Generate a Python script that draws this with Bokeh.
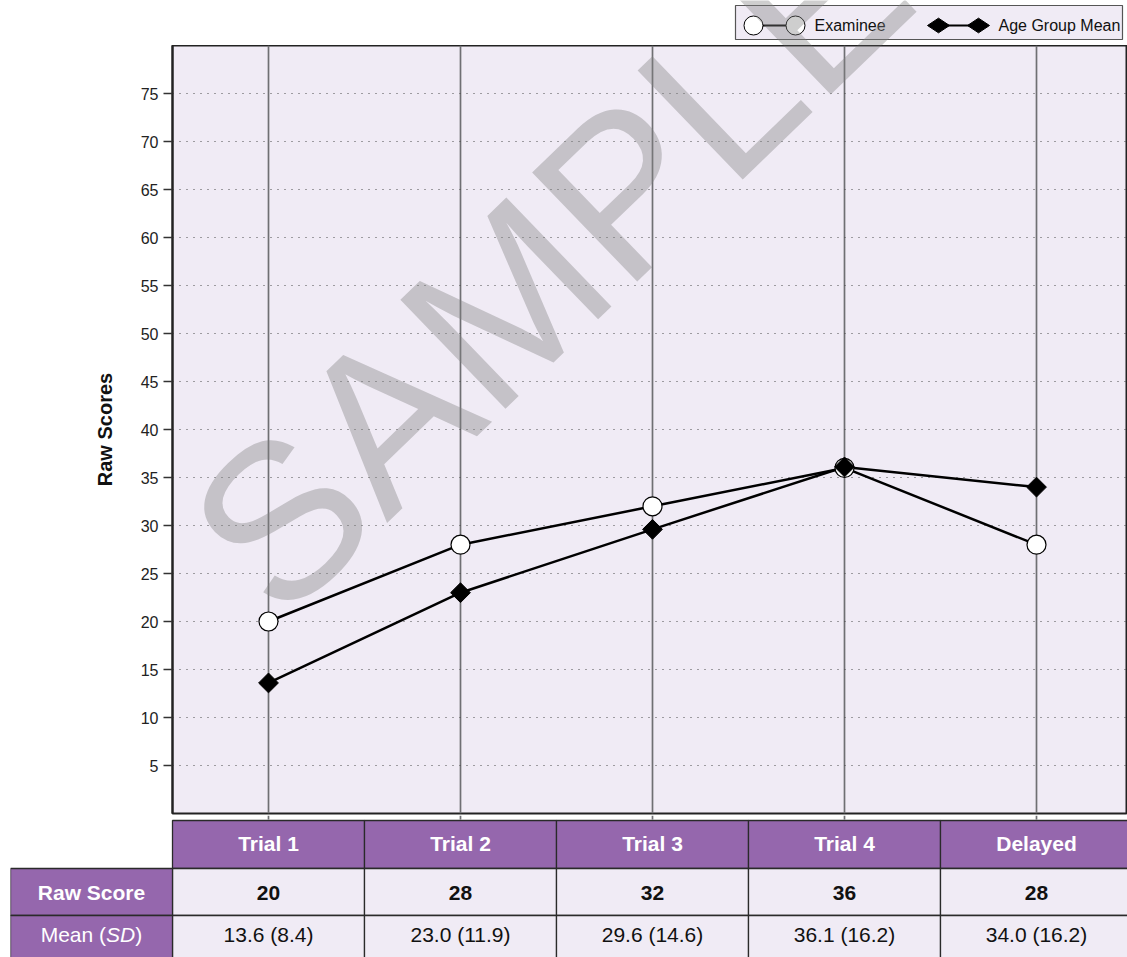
import numpy as np
from bokeh.plotting import figure
from bokeh.layouts import column
from bokeh.models import Range1d, FixedTicker, Label
from bokeh.core.properties import value
from bokeh.embed import file_html
from bokeh.resources import INLINE

# ---------------- data ----------------
categories = ["Trial 1", "Trial 2", "Trial 3", "Trial 4", "Delayed"]
examinee = [20, 28, 32, 36, 28]
age_mean = [13.6, 23.0, 29.6, 36.1, 34.0]
age_sd = [8.4, 11.9, 14.6, 16.2, 16.2]
y_ticks = [5, 10, 15, 20, 25, 30, 35, 40, 45, 50, 55, 60, 65, 70, 75]
series_names = ["Examinee", "Age Group Mean"]
row_labels = ["Raw Score", "Mean (", "SD", ")"]
y_label = "Raw Scores"
watermark = "SAMPLE"

# ---------------- layout constants (page pixels) ----------------
FONT = "Liberation Sans"
LAV = "#f0ebf5"
PURPLE = "#9567ad"
W = 1127
FRAME_L, FRAME_R = 172, 1127
FRAME_TOP, FRAME_BOT = 45, 813
COL_W = 192
Y_MAX = 80
TOP_H = FRAME_TOP
CHART_H = FRAME_BOT - FRAME_TOP + 2
TABLE_TOP, TABLE_BOT = FRAME_BOT + 2, 957
TABLE_H = TABLE_BOT - TABLE_TOP
LABEL_L = 10


def px2x(px):
    return 0.5 + (px - FRAME_L) / COL_W


def px2y(py):
    return (FRAME_BOT - py) * Y_MAX / (FRAME_BOT - FRAME_TOP)


xs = np.arange(1, len(categories) + 1)

WM_X, WM_Y, WM_ANGLE, WM_SIZE = 228, 570, np.deg2rad(44), "220px"
WM_COLOR, WM_ALPHA = "#808080", 0.39

# ---------------- legend strip ----------------
lg = figure(width=W, height=TOP_H, x_range=Range1d(0, W), y_range=Range1d(TOP_H, 0),
            x_axis_type=None, y_axis_type=None, toolbar_location=None, output_backend="svg",
            min_border=0, outline_line_color=None, background_fill_color="white",
            border_fill_color="white", frame_align=False)
lg.quad(left=[735], right=[1122], top=[5], bottom=[39], fill_color=LAV, line_color="#555555", line_width=1.2)
LY = 25
lg.line([753, 795], [LY, LY], line_color="black", line_width=2)
lg.scatter([753, 795], [LY, LY], marker="circle", size=19, fill_color="white", line_color="black", line_width=1)
lg.line([938, 978], [LY, LY], line_color="black", line_width=2)
lg.scatter([938, 978], [LY, LY], marker="diamond", angle=np.pi / 2, size=22, fill_color="black", line_color="black")
lg.text(x=[814, 998], y=[LY, LY], text=series_names, text_font=value(FONT), text_font_size="16px",
        text_baseline="middle", text_align="left", text_color="#111111")
lg.add_layout(Label(x=WM_X, y=WM_Y, text=watermark, angle=WM_ANGLE, text_font=FONT,
                    text_font_size=WM_SIZE, text_color=WM_COLOR, text_alpha=WM_ALPHA,
                    text_align="left", text_baseline="alphabetic"))

# ---------------- chart ----------------
p = figure(width=W, height=CHART_H, x_range=Range1d(0.5, px2x(FRAME_R)), y_range=Range1d(0, Y_MAX),
           toolbar_location=None, output_backend="svg",
           min_border_left=FRAME_L, min_border_right=0, min_border_top=0, min_border_bottom=2,
           background_fill_color=LAV, border_fill_color="white",
           outline_line_color="#222222", outline_line_width=2, frame_align=False)

p.xaxis.visible = False

p.yaxis.ticker = FixedTicker(ticks=y_ticks)
p.yaxis.major_label_text_font = FONT
p.yaxis.major_label_text_font_size = "16px"
p.yaxis.major_label_text_color = "#222222"
p.yaxis.major_tick_out = 9
p.yaxis.major_tick_in = 0
p.yaxis.major_tick_line_width = 1.5
p.yaxis.major_tick_line_color = "#333333"
p.yaxis.major_label_standoff = 5
p.yaxis.minor_tick_line_color = None
p.yaxis.axis_line_color = "#222222"
p.yaxis.axis_line_width = 2
p.yaxis.axis_label = y_label
p.yaxis.axis_label_text_font = FONT
p.yaxis.axis_label_text_font_style = "bold"
p.yaxis.axis_label_text_font_size = "20px"
p.yaxis.axis_label_text_color = "#111111"
p.yaxis.axis_label_standoff = 22

p.xgrid.ticker = FixedTicker(ticks=list(xs))
p.xgrid.grid_line_color = "#6f6f73"
p.xgrid.grid_line_width = 1.7
p.ygrid.ticker = FixedTicker(ticks=y_ticks)
p.ygrid.grid_line_color = "#4a4a4a"
p.ygrid.grid_line_dash = "1 6"
p.ygrid.grid_line_width = 1

p.line(xs, examinee, line_color="black", line_width=2.5)
p.line(xs, age_mean, line_color="black", line_width=2.5)
p.scatter(xs, examinee, marker="circle", size=19, fill_color="white", line_color="black", line_width=1.2)
p.scatter(xs, age_mean, marker="square", angle=np.pi / 4, size=14, fill_color="black", line_color="black")

p.add_layout(Label(x=px2x(WM_X), y=px2y(WM_Y), text=watermark, angle=WM_ANGLE, text_font=FONT,
                   text_font_size=WM_SIZE, text_color=WM_COLOR, text_alpha=WM_ALPHA,
                   text_align="left", text_baseline="alphabetic"))

# ---------------- table ----------------
t = figure(width=W, height=TABLE_H, x_range=Range1d(px2x(LABEL_L), px2x(FRAME_R)),
           y_range=Range1d(TABLE_BOT, TABLE_TOP), x_axis_type=None, y_axis_type=None,
           toolbar_location=None, output_backend="svg", min_border_left=LABEL_L,
           min_border_right=0, min_border_top=0, min_border_bottom=0,
           outline_line_color=None, background_fill_color="white", border_fill_color="white",
           frame_align=False)

# category tick marks continuing the vertical grid below the plot frame
t.segment(x0=xs, y0=[TABLE_TOP] * len(xs), x1=xs, y1=[TABLE_TOP + 4] * len(xs),
          line_color="#6f6f73", line_width=1.7)

H0, H1, R1, R2 = 820, 868, 915, 962
BORDER = "#2a2a2a"
n = len(xs)
t.quad(left=xs - 0.5, right=xs + 0.5, top=[H0] * n, bottom=[H1] * n,
       fill_color=PURPLE, line_color=BORDER, line_width=1.3)
t.quad(left=xs - 0.5, right=xs + 0.5, top=[H1] * n, bottom=[R1] * n,
       fill_color=LAV, line_color=BORDER, line_width=1.3)
t.quad(left=xs - 0.5, right=xs + 0.5, top=[R1] * n, bottom=[R2] * n,
       fill_color=LAV, line_color=BORDER, line_width=1.3)
t.quad(left=[px2x(LABEL_L)] * 2, right=[0.5] * 2, top=[H1, R1], bottom=[R1, R2],
       fill_color=PURPLE, line_color=BORDER, line_width=1.3)

TS = "21px"
t.text(x=xs, y=[(H0 + H1) / 2 - 1] * n, text=categories, text_font=value(FONT), text_font_size=TS,
       text_font_style="bold", text_color="white", text_align="center", text_baseline="middle")
t.text(x=xs, y=[(H1 + R1) / 2 + 0.5] * n, text=[str(v) for v in examinee], text_font=value(FONT),
       text_font_size=TS, text_font_style="bold", text_color="#111111", text_align="center",
       text_baseline="middle")
MY = (R1 + R2) / 2 - 5
t.text(x=xs, y=[MY] * n, text=[f"{m:.1f} ({s:.1f})" for m, s in zip(age_mean, age_sd)],
       text_font=value(FONT), text_font_size=TS, text_color="#111111", text_align="center",
       text_baseline="middle")

LC = (px2x(LABEL_L) + 0.5) / 2
t.text(x=[LC], y=[(H1 + R1) / 2 + 0.5], text=[row_labels[0]], text_font=value(FONT), text_font_size=TS,
       text_font_style="bold", text_color="white", text_align="center", text_baseline="middle")
# "Mean (SD)" with italic SD, laid out left to right
start = LC - 50.8 / COL_W
w_a = 65.4 / COL_W
w_b = 29.2 / COL_W
t.text(x=[start], y=[MY], text=[row_labels[1]], text_font=value(FONT), text_font_size=TS,
       text_color="white", text_align="left", text_baseline="middle")
t.text(x=[start + w_a], y=[MY], text=[row_labels[2]], text_font=value(FONT), text_font_size=TS,
       text_font_style="italic", text_color="white", text_align="left", text_baseline="middle")
t.text(x=[start + w_a + w_b], y=[MY], text=[row_labels[3]], text_font=value(FONT), text_font_size=TS,
       text_color="white", text_align="left", text_baseline="middle")

layout = column(lg, p, t, spacing=0)
open("out.html", "w").write(file_html(layout, INLINE))
